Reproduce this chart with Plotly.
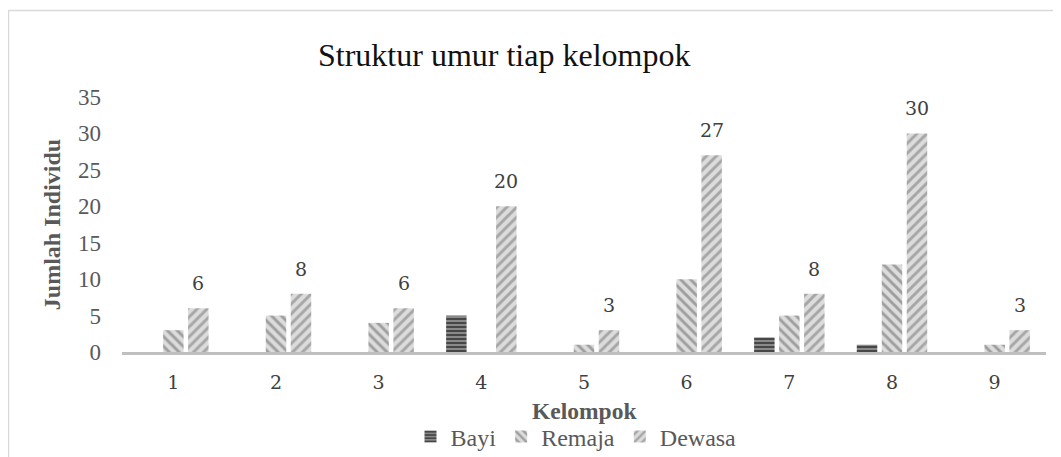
import plotly.graph_objects as go

kelompok = [1, 2, 3, 4, 5, 6, 7, 8, 9]
bayi = [0, 0, 0, 5, 0, 0, 2, 1, 0]
remaja = [3, 5, 4, 0, 1, 10, 5, 12, 1]
dewasa = [6, 8, 6, 20, 3, 27, 8, 30, 3]
series_names = ["Bayi", "Remaja", "Dewasa"]
y_ticks = [0, 5, 10, 15, 20, 25, 30, 35]

BARGAP = 0.27
SERIF = "Liberation Serif, Times New Roman, serif"
LABEL_FONT = "DejaVu Serif, serif"

# The page body adds an 8px offset; compensate so the picture lines up.
OFF = 8
PX_L, PX_R, PX_T, PX_B = 122, 1046, 97, 352  # plot area in page pixels
PW, PH = PX_R - PX_L, PX_B - PX_T
W, H = 1061 - OFF, 457 - OFF


def px_x(p):
    return (p - PX_L) / PW


def px_y(p):
    return (PX_B - p) / PH


def cont_y(p):
    return (H - (p - OFF)) / H


def cont_x(p):
    return (p - OFF) / W


fig = go.Figure()
styles = [
    dict(bg="#8a8a8a", fg="#3f3f3f", shape="-", size=4, solidity=0.45),
    dict(bg="#dcdcdc", fg="#9e9e9e", shape="\\", size=7, solidity=0.42),
    dict(bg="#dcdcdc", fg="#a6a6a6", shape="/", size=7, solidity=0.42),
]
for name, vals, st in zip(series_names, [bayi, remaja, dewasa], styles):
    fig.add_trace(go.Bar(
        x=kelompok, y=vals, name=name,
        marker=dict(
            color=st["bg"], line=dict(width=0),
            pattern=dict(shape=st["shape"], fgcolor=st["fg"], bgcolor=st["bg"],
                         size=st["size"], solidity=st["solidity"], fillmode="replace"),
        ),
        hoverinfo="x+y+name",
    ))

slot = (1 - BARGAP) / 3
for k, v in zip(kelompok, dewasa):
    fig.add_annotation(
        x=k + slot, y=v, text=str(v), showarrow=False,
        xref="x", yref="y", yanchor="middle", yshift=25,
        font=dict(family=LABEL_FONT, size=19, color="#404040"),
    )

fig.add_annotation(
    text="Struktur umur tiap kelompok", xref="paper", yref="paper",
    x=px_x(504), y=px_y(55), xanchor="center", yanchor="middle",
    showarrow=False, font=dict(family=SERIF, size=32, color="#111111"),
)

# x-axis title
fig.add_annotation(
    text="<b>Kelompok</b>", xref="paper", yref="paper",
    x=px_x(584), y=px_y(411), xanchor="center", yanchor="middle",
    showarrow=False, font=dict(family=SERIF, size=23.5, color="#595959"),
)

# outer chart frame
fig.add_shape(type="rect", xref="paper", yref="paper",
              x0=px_x(8.5), x1=1.2, y0=-1.0, y1=px_y(10.5),
              line=dict(color="#d9d9d9", width=1.5), fillcolor="rgba(0,0,0,0)", layer="below")

fig.update_layout(
    width=W, height=H,
    margin=dict(l=PX_L - OFF, r=W - (PX_R - OFF), t=PX_T - OFF, b=H - (PX_B - OFF),
                autoexpand=False),
    paper_bgcolor="white", plot_bgcolor="white",
    barmode="group", bargap=BARGAP, bargroupgap=0.18,
    showlegend=True,
    legend=dict(orientation="h", xref="container", yref="container",
                x=cont_x(576), xanchor="center",
                y=cont_y(437), yanchor="middle",
                font=dict(family=SERIF, size=24, color="#595959"),
                itemwidth=30, tracegroupgap=0, itemsizing="constant"),
    xaxis=dict(
        tickmode="array", tickvals=kelompok, ticktext=[str(k) for k in kelompok],
        range=[0.5, 9.5], showgrid=False, zeroline=False,
        showline=True, linecolor="#bfbfbf", linewidth=2.5,
        ticks="", ticklabelstandoff=11, automargin=False,
        tickfont=dict(family=LABEL_FONT, size=19, color="#404040"),
    ),
    yaxis=dict(
        range=[0, 35], tickvals=y_ticks, showgrid=False, zeroline=False,
        showline=False, ticks="", ticklabelstandoff=20, automargin=False,
        tickfont=dict(family=SERIF, size=23, color="#595959"),
        title=dict(text="<b>Jumlah Individu</b>", standoff=10,
                   font=dict(family=SERIF, size=24, color="#595959")),
    ),
)

fig.write_html("out.html")
